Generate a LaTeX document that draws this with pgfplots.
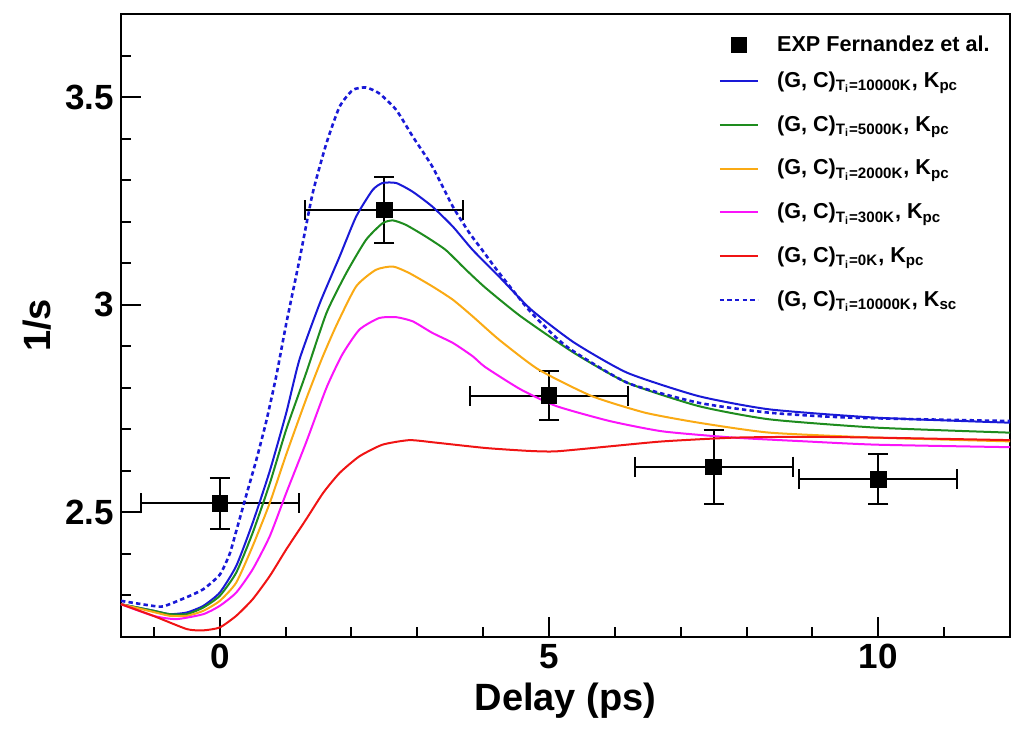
\documentclass[border=0pt]{standalone}
\usepackage{fontspec}
\setmainfont{Liberation Sans}
\usepackage{pgfplots}
\pgfplotsset{compat=1.18}
\definecolor{cblue}{RGB}{25,25,215}
\definecolor{cgreen}{RGB}{30,140,30}
\definecolor{corange}{RGB}{250,170,20}
\definecolor{cmag}{RGB}{250,20,250}
\definecolor{cred}{RGB}{240,20,20}
\pgfplotsset{
  lineleg/.style={legend image code/.code={\draw[##1] (0bp,0bp) -- (19bp,0bp);}},
  markleg/.style={legend image code/.code={\draw[##1] plot coordinates {(9.5bp,0bp)};
     \pgfresetboundingbox \path[draw=none,fill=none] (0bp,-1bp) rectangle (19bp,1bp);}},
}
\newcommand{\lab}[2]{(G, C)\textsubscript{T\textsubscript{i}=#1}, K\textsubscript{#2}}
\begin{document}
\begin{tikzpicture}
\begin{axis}[
  width=444.5bp, height=311.5bp, scale only axis,
  xmin=-1.5, xmax=12, ymin=2.2, ymax=3.7,
  xtick={0,5,10}, minor xtick={-1,1,2,3,4,6,7,8,9,11},
  ytick={2.5,3,3.5}, minor ytick={2.3,2.4,2.6,2.7,2.8,2.9,3.1,3.2,3.3,3.4,3.6},
  tick pos=left, tick align=inside,
  major tick length=10bp, minor tick length=5bp,
  every tick/.style={black, line width=1bp},
  axis line style={line width=1bp},
  /pgf/number format/assume math mode=true,
  ticklabel style={font=\bfseries\fontsize{17.5bp}{20bp}\selectfont},
  xlabel={Delay (ps)}, ylabel={1/s},
  label style={font=\bfseries\fontsize{19bp}{22bp}\selectfont},
  legend cell align=left,
  legend style={draw=none, fill=none, at={(0.665,0.966)}, anchor=north west,
    font=\bfseries\fontsize{10.8bp}{13bp}\selectfont, row sep=8.6bp, column sep=7bp},
]
\coordinate (sw) at (rel axis cs:0,0);
\addplot[black, only marks, mark=square*, mark size=3.9bp, markleg,
  error bars/.cd, x dir=both, x explicit, y dir=both, y explicit,
  error mark=|,
  error bar style={line width=1bp, black},
  error mark options={mark size=5bp, line width=1bp, black}]
 coordinates {
 (0,2.522) +- (1.2,0.062)
 (2.5,3.228) +- (1.2,0.08)
 (5,2.781) +- (1.2,0.059)
 (7.5,2.61) +- (1.2,0.089)
 (10,2.58) +- (1.2,0.06)
 };
\addlegendentry{\raisebox{-3.9bp}[0pt][0pt]{EXP Fernandez et al.}}
\addplot[cblue, line width=1bp, lineleg, smooth, tension=0.35] coordinates {
(-1.5,2.279) (-1.0,2.263) (-0.76,2.255) (-0.5,2.259) (-0.25,2.275) (0,2.307)
(0.25,2.371) (0.5,2.475) (0.76,2.60) (1.01,2.74) (1.21,2.868) (1.52,3.004)
(1.82,3.116) (2.07,3.212) (2.32,3.276) (2.47,3.293) (2.68,3.293) (2.93,3.272)
(3.23,3.236) (3.54,3.188) (3.84,3.132) (4.24,3.068) (4.73,2.988) (5.38,2.909)
(6.19,2.836) (7.27,2.78) (8.35,2.748) (9.98,2.728) (12,2.716)};
\addlegendentry{\lab{10000K}{pc}}
\addplot[cgreen, line width=1bp, lineleg, smooth, tension=0.35] coordinates {
(-1.5,2.279) (-1.0,2.263) (-0.76,2.255) (-0.5,2.255) (-0.25,2.271) (0,2.299)
(0.25,2.355) (0.5,2.451) (0.76,2.57) (1.01,2.70) (1.31,2.835) (1.62,2.98)
(1.92,3.076) (2.22,3.156) (2.47,3.196) (2.63,3.203) (2.83,3.192) (3.13,3.164)
(3.43,3.132) (3.74,3.084) (4.04,3.04) (4.57,2.972) (5.38,2.884) (6.19,2.812)
(7.27,2.756) (8.35,2.724) (9.98,2.704) (12,2.692)};
\addlegendentry{\lab{5000K}{pc}}
\addplot[corange, line width=1bp, lineleg, smooth, tension=0.35] coordinates {
(-1.5,2.279) (-1.0,2.26) (-0.76,2.251) (-0.5,2.251) (-0.25,2.263) (0,2.287)
(0.25,2.331) (0.5,2.419) (0.76,2.523) (1.01,2.64) (1.31,2.772) (1.55,2.87)
(1.77,2.95) (2.07,3.044) (2.37,3.084) (2.63,3.092) (2.88,3.076) (3.23,3.044)
(3.54,3.012) (3.84,2.972) (4.24,2.916) (4.84,2.844) (5.65,2.78) (6.46,2.74)
(7.27,2.716) (8.35,2.692) (9.98,2.68) (12,2.671)};
\addlegendentry{\lab{2000K}{pc}}
\addplot[cmag, line width=1bp, lineleg, smooth, tension=0.35] coordinates {
(-1.5,2.279) (-1.01,2.251) (-0.66,2.243) (-0.25,2.255) (0,2.275) (0.25,2.307)
(0.5,2.363) (0.76,2.443) (1.01,2.547) (1.31,2.668) (1.62,2.80) (1.86,2.88)
(2.12,2.94) (2.42,2.968) (2.68,2.97) (2.93,2.96) (3.23,2.932) (3.54,2.908)
(3.84,2.876) (4.03,2.85) (4.57,2.796) (5.11,2.756) (5.92,2.72) (6.73,2.695)
(7.81,2.68) (8.89,2.671) (9.98,2.663) (12,2.657)};
\addlegendentry{\lab{300K}{pc}}
\addplot[cred, line width=1bp, lineleg, smooth, tension=0.35] coordinates {
(-1.5,2.279) (-1.01,2.251) (-0.5,2.219) (-0.25,2.216) (0,2.223) (0.25,2.251)
(0.5,2.291) (0.76,2.347) (1.01,2.411) (1.31,2.483) (1.57,2.547) (1.82,2.595)
(2.12,2.635) (2.47,2.663) (2.88,2.674) (3.28,2.668) (4.04,2.655) (4.7,2.648)
(5.11,2.647) (5.92,2.659) (6.73,2.671) (7.81,2.68) (8.89,2.682) (9.98,2.68)
(12,2.674)};
\addlegendentry{\lab{0K}{pc}}
\addplot[cblue, line width=1.3bp, dash pattern=on 2.2bp off 1.6bp, lineleg, smooth, tension=0.35] coordinates {
(-1.5,2.287) (-1.02,2.275) (-0.85,2.274) (-0.5,2.296) (-0.25,2.315) (0,2.35)
(0.15,2.40) (0.25,2.455) (0.40,2.54) (0.556,2.627) (0.707,2.72) (0.86,2.83)
(1.01,2.955) (1.21,3.108) (1.41,3.268) (1.62,3.389) (1.82,3.477) (2.02,3.517)
(2.22,3.523) (2.42,3.509) (2.68,3.469) (2.93,3.405) (3.23,3.332) (3.54,3.236)
(3.79,3.173) (3.97,3.135) (4.24,3.077) (4.73,2.981) (5.27,2.899) (6.19,2.812)
(7.27,2.764) (8.35,2.740) (9.6,2.728) (12,2.72)};
\addlegendentry{\lab{10000K}{sc}}
\end{axis}
\pgfresetboundingbox
\path ([shift={(-60.5bp,-48.5bp)}]sw) rectangle ([shift={(445bp,318.5bp)}]sw);
\end{tikzpicture}
\end{document}
